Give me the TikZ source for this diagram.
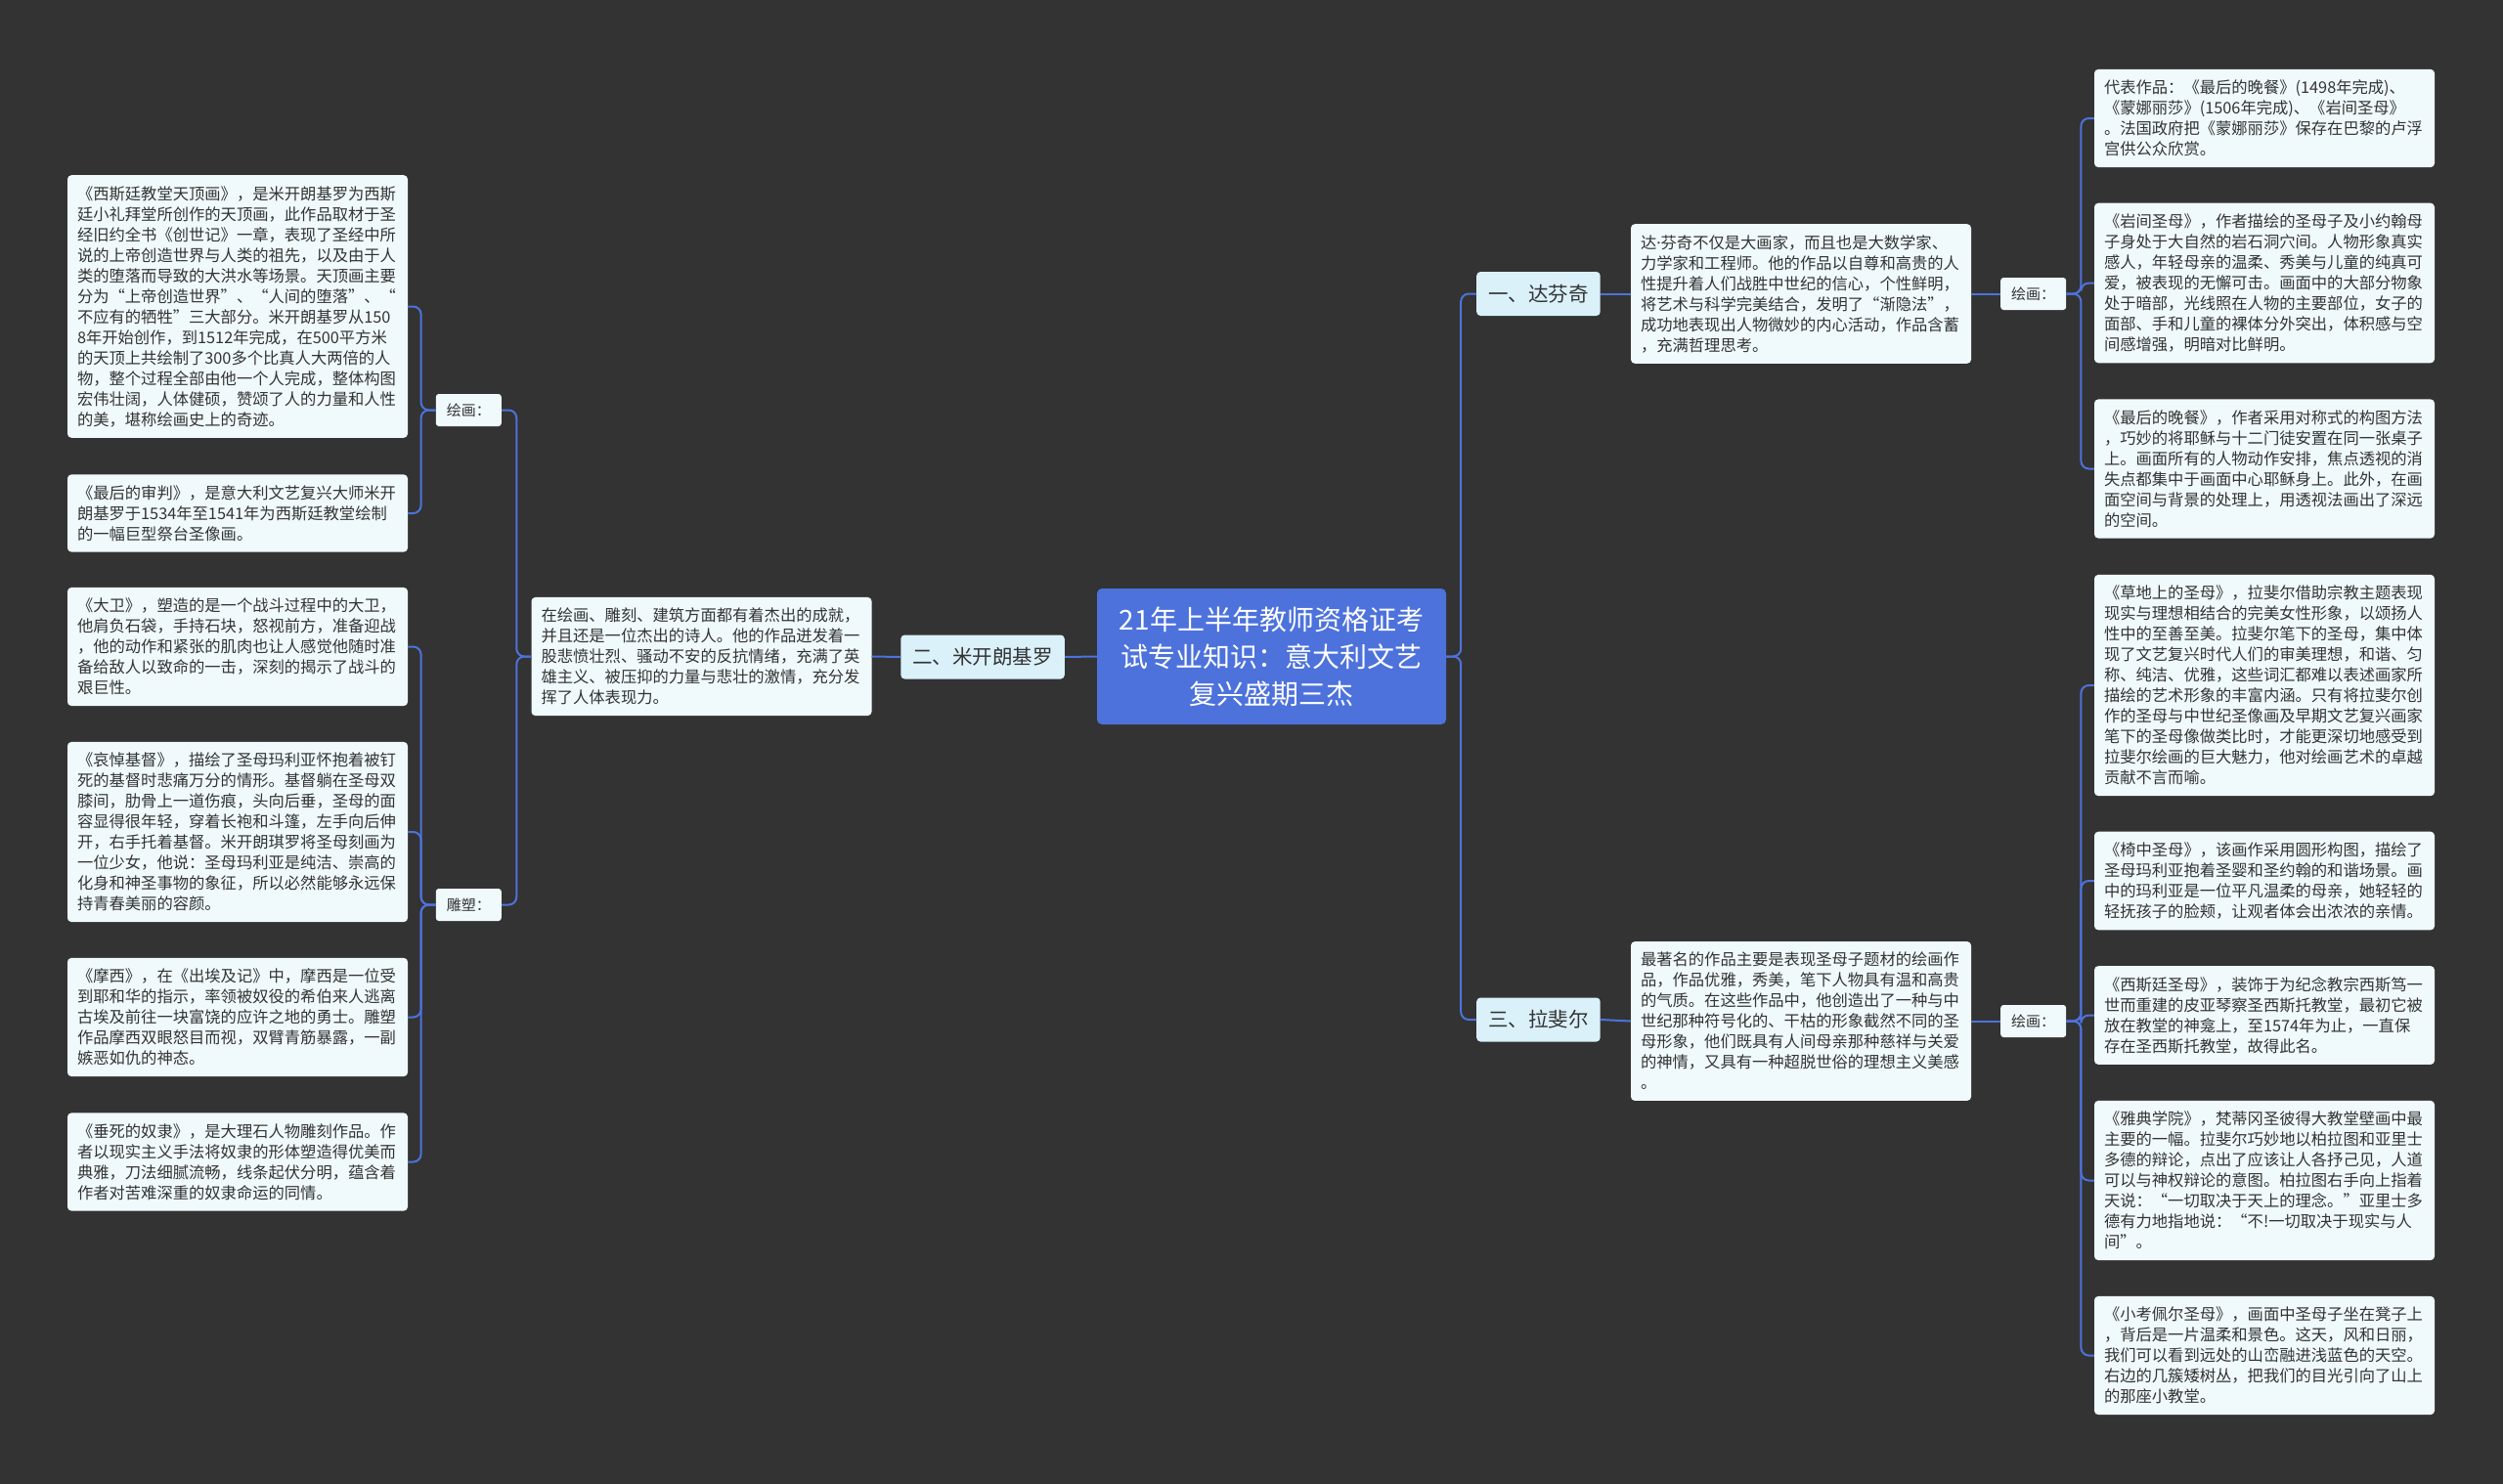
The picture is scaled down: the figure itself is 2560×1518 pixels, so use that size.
\documentclass[tikz,border=0pt]{standalone}
\usepackage{fontspec}
\setmainfont{Noto Sans CJK SC}
\newfontfamily\latinf{Noto Sans}
\definecolor{bg}{HTML}{333333}
\definecolor{rootblue}{HTML}{4D72DC}
\definecolor{lonefill}{HTML}{DAF1FA}
\definecolor{boxfill}{HTML}{F0FAFD}
\definecolor{txt}{HTML}{333333}
\definecolor{linecol}{HTML}{4D72DC}
\tikzset{
  detail/.style={fill=boxfill, rounded corners=4pt, text=txt, font=\fontsize{16.3}{21}\selectfont, align=left, text width=328pt, inner xsep=10pt, inner ysep=11pt},
  lvlone/.style={fill=lonefill, rounded corners=4pt, text=txt, font=\fontsize{20.5}{24}\selectfont, inner xsep=12pt, inner ysep=4pt, minimum height=45pt},
  lbl/.style={fill=boxfill, rounded corners=3pt, text=txt, font=\fontsize{15}{18}\selectfont, minimum width=67pt, minimum height=33pt, inner sep=2pt},
  rootnode/.style={fill=rootblue, text=white, rounded corners=5pt, font=\fontsize{28}{38}\selectfont, align=center, minimum width=357pt, minimum height=139pt, inner sep=4pt},
  conn/.style={draw=linecol, line width=2pt, rounded corners=8pt}
}
\newcommand\conR[2]{\draw[conn] (#1.east) -- ++(15,0) |- (#2.west);}
\newcommand\conL[2]{\draw[conn] (#1.west) -- ++(-15,0) |- (#2.east);}
\begin{document}
\begin{tikzpicture}[x=1pt,y=-1pt]
\fill[bg] (0,0) rectangle (2560,1518);
\useasboundingbox (0,0) rectangle (2560,1518);

% root
\node[rootnode] (root) at (1300.5,671.5) {21年上半年教师资格证考\\试专业知识：意大利文艺\\复兴盛期三杰};

% level one
\node[lvlone, anchor=west] (dv) at (1510,300.5) {一、达芬奇};
\node[lvlone, anchor=east] (mk) at (1089,672) {二、米开朗基罗};
\node[lvlone, anchor=west] (lf) at (1510,1043) {三、拉斐尔};

% Michelangelo
\node[detail] (mkd) at (717.5,671.5) {在绘画、雕刻、建筑方面都有着杰出的成就，\\并且还是一位杰出的诗人。他的作品迸发着一\\股悲愤壮烈、骚动不安的反抗情绪，充满了英\\雄主义、被压抑的力量与悲壮的激情，充分发\\挥了人体表现力。};
\node[lbl, anchor=east] (mkp) at (513,419.5) {绘画：};
\node[lbl, anchor=east] (mks) at (513,925.5) {雕塑：};

\node[detail] (la) at (243,313.5) {《西斯廷教堂天顶画》，是米开朗基罗为西斯\\廷小礼拜堂所创作的天顶画，此作品取材于圣\\经旧约全书《创世记》一章，表现了圣经中所\\说的上帝创造世界与人类的祖先，以及由于人\\类的堕落而导致的大洪水等场景。天顶画主要\\分为“上帝创造世界”、“人间的堕落”、“\\不应有的牺牲”三大部分。米开朗基罗从150\\8年开始创作，到1512年完成，在500平方米\\的天顶上共绘制了300多个比真人大两倍的人\\物，整个过程全部由他一个人完成，整体构图\\宏伟壮阔，人体健硕，赞颂了人的力量和人性\\的美，堪称绘画史上的奇迹。};
\node[detail] (lb) at (243,525) {《最后的审判》，是意大利文艺复兴大师米开\\朗基罗于1534年至1541年为西斯廷教堂绘制\\的一幅巨型祭台圣像画。};
\node[detail] (lc) at (243,661.5) {《大卫》，塑造的是一个战斗过程中的大卫，\\他肩负石袋，手持石块，怒视前方，准备迎战\\，他的动作和紧张的肌肉也让人感觉他随时准\\备给敌人以致命的一击，深刻的揭示了战斗的\\艰巨性。};
\node[detail] (ld) at (243,851) {《哀悼基督》，描绘了圣母玛利亚怀抱着被钉\\死的基督时悲痛万分的情形。基督躺在圣母双\\膝间，肋骨上一道伤痕，头向后垂，圣母的面\\容显得很年轻，穿着长袍和斗篷，左手向后伸\\开，右手托着基督。米开朗琪罗将圣母刻画为\\一位少女，他说：圣母玛利亚是纯洁、崇高的\\化身和神圣事物的象征，所以必然能够永远保\\持青春美丽的容颜。};
\node[detail] (le) at (243,1040.5) {《摩西》，在《出埃及记》中，摩西是一位受\\到耶和华的指示，率领被奴役的希伯来人逃离\\古埃及前往一块富饶的应许之地的勇士。雕塑\\作品摩西双眼怒目而视，双臂青筋暴露，一副\\嫉恶如仇的神态。};
\node[detail] (lg) at (243,1188.5) {《垂死的奴隶》，是大理石人物雕刻作品。作\\者以现实主义手法将奴隶的形体塑造得优美而\\典雅，刀法细腻流畅，线条起伏分明，蕴含着\\作者对苦难深重的奴隶命运的同情。};

% Da Vinci
\node[detail] (dvd) at (1842,300.5) {达{\latinf ·}芬奇不仅是大画家，而且也是大数学家、\\力学家和工程师。他的作品以自尊和高贵的人\\性提升着人们战胜中世纪的信心，个性鲜明，\\将艺术与科学完美结合，发明了“渐隐法”，\\成功地表现出人物微妙的内心活动，作品含蓄\\，充满哲理思考。};
\node[lbl, anchor=west] (dvp) at (2046,300.5) {绘画：};
\node[detail] (ra) at (2316,121) {代表作品：《最后的晚餐》(1498年完成)、\\《蒙娜丽莎》(1506年完成)、《岩间圣母》\\。法国政府把《蒙娜丽莎》保存在巴黎的卢浮\\宫供公众欣赏。};
\node[detail] (rb) at (2316,289.5) {《岩间圣母》，作者描绘的圣母子及小约翰母\\子身处于大自然的岩石洞穴间。人物形象真实\\感人，年轻母亲的温柔、秀美与儿童的纯真可\\爱，被表现的无懈可击。画面中的大部分物象\\处于暗部，光线照在人物的主要部位，女子的\\面部、手和儿童的裸体分外突出，体积感与空\\间感增强，明暗对比鲜明。};
\node[detail] (rc) at (2316,479.5) {《最后的晚餐》，作者采用对称式的构图方法\\，巧妙的将耶稣与十二门徒安置在同一张桌子\\上。画面所有的人物动作安排，焦点透视的消\\失点都集中于画面中心耶稣身上。此外，在画\\面空间与背景的处理上，用透视法画出了深远\\的空间。};

% Raphael
\node[detail] (lfd) at (1842,1044.5) {最著名的作品主要是表现圣母子题材的绘画作\\品，作品优雅，秀美，笔下人物具有温和高贵\\的气质。在这些作品中，他创造出了一种与中\\世纪那种符号化的、干枯的形象截然不同的圣\\母形象，他们既具有人间母亲那种慈祥与关爱\\的神情，又具有一种超脱世俗的理想主义美感\\。};
\node[lbl, anchor=west] (lfp) at (2046,1044.5) {绘画：};
\node[detail] (rd) at (2316,701) {《草地上的圣母》，拉斐尔借助宗教主题表现\\现实与理想相结合的完美女性形象，以颂扬人\\性中的至善至美。拉斐尔笔下的圣母，集中体\\现了文艺复兴时代人们的审美理想，和谐、匀\\称、纯洁、优雅，这些词汇都难以表述画家所\\描绘的艺术形象的丰富内涵。只有将拉斐尔创\\作的圣母与中世纪圣像画及早期文艺复兴画家\\笔下的圣母像做类比时，才能更深切地感受到\\拉斐尔绘画的巨大魅力，他对绘画艺术的卓越\\贡献不言而喻。};
\node[detail] (re) at (2316,901) {《椅中圣母》，该画作采用圆形构图，描绘了\\圣母玛利亚抱着圣婴和圣约翰的和谐场景。画\\中的玛利亚是一位平凡温柔的母亲，她轻轻的\\轻抚孩子的脸颊，让观者体会出浓浓的亲情。};
\node[detail] (rf) at (2316,1038.5) {《西斯廷圣母》，装饰于为纪念教宗西斯笃一\\世而重建的皮亚琴察圣西斯托教堂，最初它被\\放在教堂的神龛上，至1574年为止，一直保\\存在圣西斯托教堂，故得此名。};
\node[detail] (rg) at (2316,1207.5) {《雅典学院》，梵蒂冈圣彼得大教堂壁画中最\\主要的一幅。拉斐尔巧妙地以柏拉图和亚里士\\多德的辩论，点出了应该让人各抒己见，人道\\可以与神权辩论的意图。柏拉图右手向上指着\\天说：“一切取决于天上的理念。”亚里士多\\德有力地指地说：“不!一切取决于现实与人\\间”。};
\node[detail] (rh) at (2316,1386.5) {《小考佩尔圣母》，画面中圣母子坐在凳子上\\，背后是一片温柔和景色。这天，风和日丽，\\我们可以看到远处的山峦融进浅蓝色的天空。\\右边的几簇矮树丛，把我们的目光引向了山上\\的那座小教堂。};

% connectors
\conR{root}{dv}
\conR{root}{lf}
\draw[conn] (root.west) -- (mk.east);
\draw[conn] (mk.west) -- (mkd.east);
\conL{mkd}{mkp}
\conL{mkd}{mks}
\conL{mkp}{la}
\conL{mkp}{lb}
\conL{mks}{lc}
\conL{mks}{ld}
\conL{mks}{le}
\conL{mks}{lg}
\draw[conn] (dv.east) -- (dvd.west);
\draw[conn] (dvd.east) -- (dvp.west);
\conR{dvp}{ra}
\conR{dvp}{rb}
\conR{dvp}{rc}
\draw[conn] (lf.east) -- (lfd.west);
\draw[conn] (lfd.east) -- (lfp.west);
\conR{lfp}{rd}
\conR{lfp}{re}
\conR{lfp}{rf}
\conR{lfp}{rg}
\conR{lfp}{rh}
\end{tikzpicture}
\end{document}
